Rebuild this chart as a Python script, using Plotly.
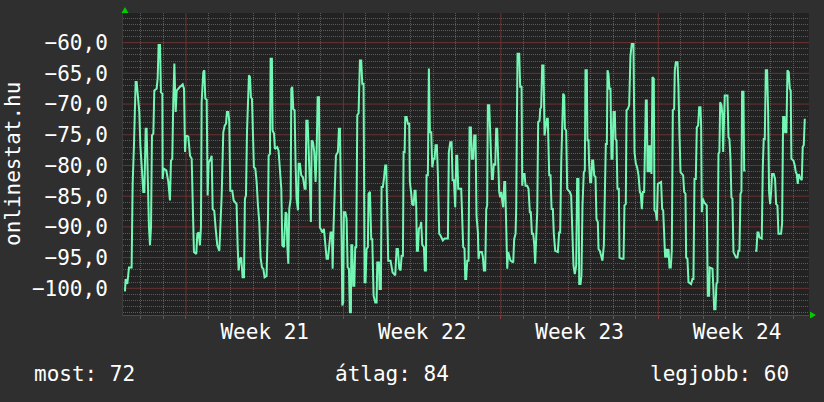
import plotly.graph_objects as go
from datetime import datetime, timedelta

# ---------------- data ----------------
START = datetime(2013, 5, 17, 0, 0)

hours = [
    6.9, 7.6, 9.4, 11.2, 14.0, 15.1, 16.5, 18.3, 19.4, 20.4, 22.2, 23.3, 24.7, 26.5, 27.6, 29.0, 30.0,
    31.1, 32.5, 33.6, 34.7, 35.7, 37.2, 38.2, 40.7, 41.8, 42.8, 44.3, 45.3, 46.8, 47.1, 48.2, 51.0,
    53.2, 54.9, 56.0, 57.4, 58.5, 59.6, 61.0, 62.1, 64.9, 68.5, 69.9, 71.0, 72.0, 74.5, 76.3, 78.1,
    79.1, 80.5, 83.0, 84.1, 85.5, 86.9, 88.0, 88.7, 90.5, 91.6, 92.6, 94.1, 95.1, 96.2, 98.3, 99.4,
    100.5, 102.2, 103.7, 105.4, 107.6, 108.6, 110.1, 111.8, 113.3, 114.7, 115.7, 117.2, 118.2, 119.3,
    121.4, 122.9, 124.6,
    126.0, 127.1, 128.2, 129.6, 131.0, 132.4, 133.9, 134.9, 136.0, 137.1, 138.1, 139.2, 140.3, 141.3,
    142.4, 143.5, 144.5, 146.0, 147.4, 148.8, 150.2, 151.6, 153.1, 154.5, 155.9, 158.0, 159.5, 160.2,
    161.6, 162.3, 163.7, 164.4, 165.9, 166.9, 169.4, 170.8, 172.3, 173.7, 174.8, 176.5, 178.3, 179.4,
    180.1, 181.2, 182.2, 183.7, 184.4, 185.4, 186.5, 187.9, 189.0, 190.0, 191.5, 192.2, 193.6, 195.0,
    196.8, 198.6, 199.7, 200.4, 201.8, 202.9, 204.3, 205.3, 206.1, 207.5, 208.9, 210.3, 211.4, 212.5,
    213.9, 214.9, 216.4, 217.8, 219.2, 220.6, 222.1, 223.5, 224.9, 226.3, 227.7, 228.5, 229.5, 230.6,
    232.0, 234.1, 235.2, 236.3, 237.0, 238.1, 238.8, 239.8, 240.5, 242.0, 243.4, 244.5, 245.9,
    246.9, 248.0, 248.4, 249.4, 250.5, 251.6, 252.6, 253.7, 254.8, 256.2, 257.6, 259.0, 260.1, 261.5,
    262.6, 263.6, 264.7, 266.1, 266.8, 268.3, 269.7, 270.8, 272.2, 274.0, 275.4, 276.1, 277.9, 278.6,
    280.0, 280.7, 282.1, 283.2, 284.6, 285.7, 286.8, 287.8, 290.3, 291.4, 292.4, 295.3, 296.7, 298.1,
    299.6, 301.0, 302.1, 303.5, 304.2, 305.3, 306.0, 307.4, 308.8, 310.2, 310.9, 312.4, 313.4, 314.9,
    315.9, 317.0, 317.7, 318.4, 319.5, 320.5, 322.0, 323.0, 324.1, 325.9, 326.9, 328.0, 328.7, 330.1,
    331.2, 332.3, 333.7, 334.8, 336.2, 337.3, 338.3, 339.7, 340.8, 342.2, 343.6, 346.1, 347.9, 351.5,
    352.5, 354.0, 355.4, 356.5, 357.9, 359.3, 360.4, 361.4, 362.5, 365.7, 367.8,
    369.2, 370.0, 371.0, 372.1, 373.5, 374.6, 376.0, 377.1, 378.5, 379.6, 381.0, 382.0, 383.5, 384.2,
    385.2, 387.7, 388.8, 389.9, 391.3, 392.4, 393.4, 394.1, 395.6, 396.3, 397.3, 398.4, 399.5, 400.5,
    402.0, 403.0, 404.1, 405.2, 406.2, 407.3, 408.4, 409.4, 410.5, 411.6, 412.6, 413.7, 414.8, 415.8,
    418.3, 421.2, 422.2, 423.7, 424.4, 425.1, 425.8, 427.6, 428.6, 430.1, 430.8, 431.8, 433.3, 434.3,
    436.1, 437.5, 438.9, 440.0, 441.1, 442.5, 443.6, 444.6, 445.7, 446.8, 447.8, 449.3, 450.0, 451.0,
    452.1, 453.5, 454.6, 455.7, 457.1, 458.1, 459.6, 461.0, 462.1, 463.5, 464.5, 466.0, 468.8, 470.2,
    471.3, 472.4, 473.4, 474.5, 475.6, 476.3, 477.7, 478.8, 480.2, 481.6, 483.0, 484.1, 485.5, 486.9,
    488.4, 489.4,
    489.8, 490.8, 491.6, 493.0, 494.0, 495.1, 496.5, 497.6, 498.3, 499.7, 500.4, 501.5, 502.2, 503.3,
    504.4, 505.4, 506.5, 507.6, 509.0, 510.0, 511.5, 512.2, 513.6, 515.0, 516.4, 517.9, 518.9, 520.0,
    521.1, 521.8, 522.8, 523.9, 525.0, 526.0, 527.1, 528.2, 529.6, 530.3, 531.4, 532.4, 533.9, 534.6,
    537.1, 538.9, 539.9, 541.3, 542.1, 543.5, 544.9, 546.3, 547.7, 549.5, 550.6, 552.0, 553.4, 554.9,
    556.3, 557.3, 558.4, 559.5, 560.9, 561.6, 562.7, 563.7, 564.5, 565.5, 566.6, 567.7, 568.7, 569.8,
    571.2, 571.9, 573.3, 574.4, 575.5, 579.0, 580.1, 581.2, 582.2, 583.3, 584.7, 585.8, 586.9, 587.9,
    589.3, 590.4, 591.5, 592.9, 593.6, 594.7, 596.5, 597.5, 598.6, 599.7, 602.5, 603.6, 605.0, 605.7,
    607.1, 608.2, 611.0,
    612.4, 613.5, 614.6, 616.0, 617.1, 618.5, 619.6, 621.0, 621.7, 622.4, 623.5, 624.9, 626.7, 627.7,
    628.8, 630.2, 630.9, 633.8, 634.8, 635.6, 637.0, 638.0, 639.1, 640.2, 641.2, 642.0, 643.4, 644.4,
    645.2, 646.2, 646.9, 649.8, 650.9, 651.9, 653.0, 654.0, 655.1, 656.2, 657.6, 659.0, 660.4, 661.5,
    662.6, 663.7, 664.7, 665.4, 666.9, 667.6, 669.0, 674.0,
    679.3, 680.7, 681.8, 682.9, 683.9, 686.4, 687.5, 688.5, 689.6, 690.7, 692.1, 693.2, 694.2, 695.3,
    696.4, 697.4, 699.2, 700.6, 701.7, 703.1, 704.2, 707.0, 708.1, 709.2, 710.6, 711.3, 712.7, 713.8,
    715.2, 716.3, 717.3, 718.0, 720.2, 721.6, 722.7, 723.7, 724.8, 725.9, 726.9, 729.1, 730.1, 731.2,
    732.3,
]

values = [
    -100.5, -98.5, -99.3, -96.6, -96.6, -83.0, -76.7, -66.4, -66.4, -67.8, -71.3, -76.7, -80.0, -84.3, -84.3, -74.0, -74.0,
    -81.6, -90.0, -93.0, -90.0, -75.1, -74.8, -67.8, -67.5, -65.8, -60.4, -60.4, -68.1, -68.3, -82.2, -80.5, -80.8,
    -82.7, -85.7, -79.2, -78.9, -69.1, -63.4, -71.3, -67.8, -67.3, -66.8, -67.5, -77.8, -75.1, -75.3, -78.4, -78.9,
    -85.4, -94.1, -94.4, -91.1, -90.9, -93.0, -90.0, -69.7, -64.8, -64.5, -69.1, -69.3, -84.9, -79.5, -79.0, -78.4,
    -87.1, -87.4, -90.3, -93.0, -93.9, -90.9, -84.9, -74.6, -73.5, -73.2, -71.3, -71.3, -72.9, -84.1,
    -84.1, -85.7, -86.0,
    -86.3, -93.0, -97.1, -95.2, -95.0, -98.2, -98.2, -85.4, -84.9, -74.6, -70.2, -65.3, -65.6, -68.9,
    -69.1, -75.7, -80.3, -80.5, -82.7, -86.5, -89.2, -95.0, -96.6, -96.8, -98.2, -98.0, -88.7, -78.4,
    -78.1, -62.6, -62.6, -74.3, -74.8, -77.3, -77.0, -77.6, -81.4, -83.8, -93.0, -93.3, -87.6, -87.9,
    -93.0, -96.0, -87.1, -85.4, -67.5, -67.2, -70.8, -71.0, -80.0, -85.4, -87.3, -79.7, -79.7, -81.6,
    -81.9, -83.8, -83.8, -72.7, -72.7, -79.5, -83.5, -89.2, -75.9, -76.2, -77.8, -82.7, -77.8, -68.9,
    -68.9, -90.1, -90.6, -90.9, -90.3, -92.5, -95.2, -95.2, -92.8, -90.9, -90.9, -96.8, -89.8, -84.9,
    -78.4, -77.8, -74.0, -74.0, -86.0, -92.5, -102.8, -102.3, -87.6, -87.6, -88.7, -96.6, -96.8,
    -103.9, -103.9, -93.0, -93.0, -99.6, -99.6, -93.3, -93.3, -71.8, -71.5, -62.9, -62.9, -66.7, -66.7,
    -99.0, -99.0, -93.6, -93.3, -84.6, -84.3, -92.0, -92.0, -101.2, -102.3, -102.3, -95.8, -95.8, -100.1,
    -100.1, -83.5, -83.5, -82.2, -80.0, -80.0, -92.5, -95.5, -95.5, -96.6, -97.4, -97.9, -93.6, -93.6,
    -96.8, -97.1, -94.7, -94.7, -77.8, -77.8, -72.1, -72.1, -73.2, -73.2, -82.7, -84.6, -86.3, -86.5,
    -84.1, -84.1, -86.8, -93.9, -93.9, -90.3, -90.0, -89.2, -92.9, -93.3, -97.1, -97.1, -81.6, -81.6,
    -64.2, -74.6, -74.6, -80.3, -78.9, -78.9, -76.7, -76.7, -81.4, -91.1, -91.4, -92.2, -91.9, -91.9,
    -77.8, -76.2, -76.2, -82.4, -82.4, -86.8, -78.4, -78.4, -83.8, -83.8, -93.3,
    -93.5, -98.5, -98.5, -95.5, -95.5, -73.8, -73.8, -78.9, -78.9, -75.1, -75.1, -88.2, -90.9, -95.2,
    -94.1, -94.1, -94.9, -97.1, -97.1, -87.1, -86.5, -70.2, -70.2, -73.8, -79.5, -82.2, -82.2, -79.7,
    -80.0, -74.0, -74.0, -80.0, -84.3, -85.2, -84.3, -85.7, -86.8, -82.7, -82.7, -89.8, -96.8, -94.1,
    -95.5, -95.8, -92.0, -91.1, -86.8, -73.5, -61.8, -61.8, -67.2, -67.2, -83.3, -81.4, -81.4, -83.3,
    -83.3, -83.8, -87.6, -87.6, -91.1, -91.1, -92.8, -96.0, -92.5, -87.6, -72.9, -72.7, -70.8, -70.5,
    -63.7, -63.7, -75.1, -73.8, -72.4, -72.4, -81.6, -81.6, -87.1, -87.1, -91.1, -93.9, -94.1, -90.9,
    -90.9, -79.5, -71.8, -68.3, -68.6, -74.0, -74.3, -83.8, -84.1, -84.3, -84.9, -90.9, -96.3, -97.7,
    -96.3, -82.2,
    -82.2, -82.2, -99.3, -99.3, -97.9, -86.5, -81.1, -80.8, -64.5, -64.5, -75.9, -75.9, -79.7, -82.7,
    -82.7, -79.2, -79.2, -81.6, -81.9, -88.7, -89.2, -93.6, -93.9, -95.0, -95.5, -93.0, -84.3, -76.5,
    -76.5, -64.5, -65.1, -67.5, -67.5, -78.9, -78.9, -71.3, -71.3, -75.7, -75.9, -83.8, -83.8, -95.0,
    -95.2, -95.2, -86.5, -86.3, -71.0, -70.8, -70.2, -62.1, -60.2, -60.2, -77.8, -79.7, -80.3, -81.6,
    -84.3, -84.6, -87.1, -84.3, -84.3, -79.5, -69.4, -69.4, -81.1, -76.7, -81.1, -76.7, -81.4, -65.6,
    -65.9, -87.3, -87.6, -89.0, -83.0, -82.7, -87.1, -87.3, -90.3, -95.0, -93.6, -95.0, -93.6, -96.6,
    -96.6, -93.9, -71.0, -70.8, -64.5, -63.2, -63.2, -67.2, -75.1, -81.1, -81.6, -84.3, -84.6, -95.0,
    -95.2, -99.0, -99.3,
    -98.5, -98.5, -82.2, -82.2, -73.8, -73.5, -70.5, -70.5, -73.5, -87.6, -85.4, -86.0, -86.3, -86.5,
    -101.2, -101.2, -96.6, -96.8, -100.1, -103.4, -103.4, -99.3, -99.0, -78.1, -77.8, -69.7, -70.2, -71.8,
    -77.8, -72.9, -68.6, -68.6, -75.4, -75.7, -78.9, -85.2, -85.4, -94.1, -94.7, -95.0, -95.0, -93.9,
    -93.9, -84.6, -84.3, -68.0, -68.0, -80.8, -80.8, None,
    -93.9, -93.9, -90.9, -90.9, -91.7, -91.9, -80.3, -75.7, -75.7, -64.5, -64.5, -71.3, -84.3, -86.3,
    -84.3, -81.4, -81.4, -82.2, -86.3, -86.5, -91.1, -91.1, -89.5, -72.1, -72.1, -74.6, -74.6, -64.5,
    -64.8, -67.5, -67.8, -78.9, -79.2, -80.0, -81.1, -81.4, -83.0, -81.4, -81.9, -82.4, -77.0, -76.7,
    -72.4,
]

x_range_hours = [4.8, 736.8]
y_range = [-104.35, -55.17]
y_major_step = 5
y_title = "onlinestat.hu"
summary_labels = ["most: 72", "átlag: 84", "legjobb: 60"]
week_start = datetime(2013, 5, 20)   # a Monday (ISO week 21)

# ---------------- figure ----------------
times = [START + timedelta(hours=h) for h in hours]
x_range = [START + timedelta(hours=h) for h in x_range_hours]

# grid positions
minor_days, major_days = [], []
d = datetime(x_range[0].year, x_range[0].month, x_range[0].day) + timedelta(days=1)
while d <= x_range[1]:
    if (d - week_start).days % 7 != 0:
        minor_days.append(d)
    else:
        major_days.append(d)
    d += timedelta(days=1)
minor_y = [v for v in range(int(y_range[0]), int(y_range[1]) + 1) if v % y_major_step != 0]
major_y = [v for v in range(int(y_range[0]), int(y_range[1]) + 1) if v % y_major_step == 0]

FONT = "DejaVu Sans Mono"
W, H = 824, 402
L, R, T, B = 123, 15, 13, 87
PW, PH = W - L - R, H - T - B

def px(x):
    return (x - L) / PW

def py(y):
    return (H - B - y) / PH

MAJOR = "#6c3232"
MAJOR_TICK = "#8e3c3c"
MINOR = "#5a5a5a"
DOTS = "1px,1px"

fig = go.Figure()
fig.add_trace(go.Scatter(x=[], y=[], xaxis="x2", yaxis="y2", mode="lines",
                         hoverinfo="skip", showlegend=False))
fig.add_trace(go.Scatter(
    x=times, y=values, mode="lines",
    line=dict(color="#74f7b4", width=2),
    connectgaps=False, hoverinfo="skip", showlegend=False,
))

fig.update_layout(
    width=W, height=H, autosize=False,
    margin=dict(l=L, r=R, t=T, b=B, pad=0),
    paper_bgcolor="#2f2f2f", plot_bgcolor="#222222",
    font=dict(family=FONT, size=21, color="#ffffff"),
    separators=",.",
    showlegend=False,
    xaxis=dict(
        type="date", range=x_range,
        tick0=week_start, dtick=7 * 86400000,
        ticklabelmode="period", tickformat="Week %V",
        showgrid=False,
        ticks="outside", ticklen=3, tickcolor=MAJOR_TICK, tickwidth=1,
        ticklabelstandoff=-5,
        showline=True, linecolor="#4a4a4a", linewidth=1,
        zeroline=False,
        tickfont=dict(family=FONT, size=21, color="#ffffff"),
        fixedrange=True,
    ),
    xaxis2=dict(
        type="date", range=x_range, overlaying="x", side="bottom",
        tickmode="array", tickvals=minor_days, showticklabels=False,
        showgrid=True, gridcolor=MINOR, gridwidth=1, griddash=DOTS,
        ticks="outside", ticklen=3, tickcolor=MINOR, tickwidth=1,
        showline=False, zeroline=False, fixedrange=True,
    ),
    yaxis=dict(
        range=y_range, tick0=0, dtick=y_major_step, tickformat=".1f",
        showgrid=False,
        ticks="", ticklabelstandoff=10,
        showline=True, linecolor="#3c3c3c", linewidth=1,
        zeroline=False,
        tickfont=dict(family=FONT, size=21, color="#ffffff"),
        fixedrange=True,
    ),
    yaxis2=dict(
        range=y_range, overlaying="y", side="left",
        tickmode="array", tickvals=minor_y, showticklabels=False,
        showgrid=True, gridcolor=MINOR, gridwidth=1, griddash=DOTS,
        ticks="", showline=False, zeroline=False, fixedrange=True,
    ),
)

# major (red) grid lines, in data coordinates so they sit inside the plot layer
for dd in major_days:
    fig.add_shape(type="line", xref="x", yref="y", x0=dd, x1=dd, y0=y_range[0], y1=y_range[1],
                  line=dict(color=MAJOR, width=1), layer="below")
for vv in major_y:
    fig.add_shape(type="line", xref="x", yref="y", x0=x_range[0], x1=x_range[1], y0=vv, y1=vv,
                  line=dict(color=MAJOR, width=1), layer="below")

# rotated y title
fig.add_annotation(
    text=y_title, xref="paper", yref="paper", x=px(13), y=0.5,
    xanchor="center", yanchor="middle", textangle=-90, showarrow=False,
    font=dict(family=FONT, size=21, color="#ffffff"),
)

# summary line under the chart
fig.add_annotation(text=summary_labels[0], xref="paper", yref="paper", x=px(32), y=py(374),
                   xanchor="left", yanchor="middle", showarrow=False)
fig.add_annotation(text=summary_labels[1], xref="paper", yref="paper", x=px(392), y=py(374),
                   xanchor="center", yanchor="middle", showarrow=False)
fig.add_annotation(text=summary_labels[2], xref="paper", yref="paper", x=px(791), y=py(374),
                   xanchor="right", yanchor="middle", showarrow=False)

# little green arrow heads at axis ends
fig.add_shape(type="path", xref="paper", yref="paper",
              path=f"M {px(121.5)} {py(13)} L {px(128.5)} {py(13)} L {px(125)} {py(7)} Z",
              fillcolor="#00cc00", line=dict(width=0), layer="above")
fig.add_shape(type="path", xref="paper", yref="paper",
              path=f"M {px(810)} {py(311.5)} L {px(810)} {py(318.5)} L {px(816)} {py(315)} Z",
              fillcolor="#00cc00", line=dict(width=0), layer="above")

fig.write_html("out.html")
